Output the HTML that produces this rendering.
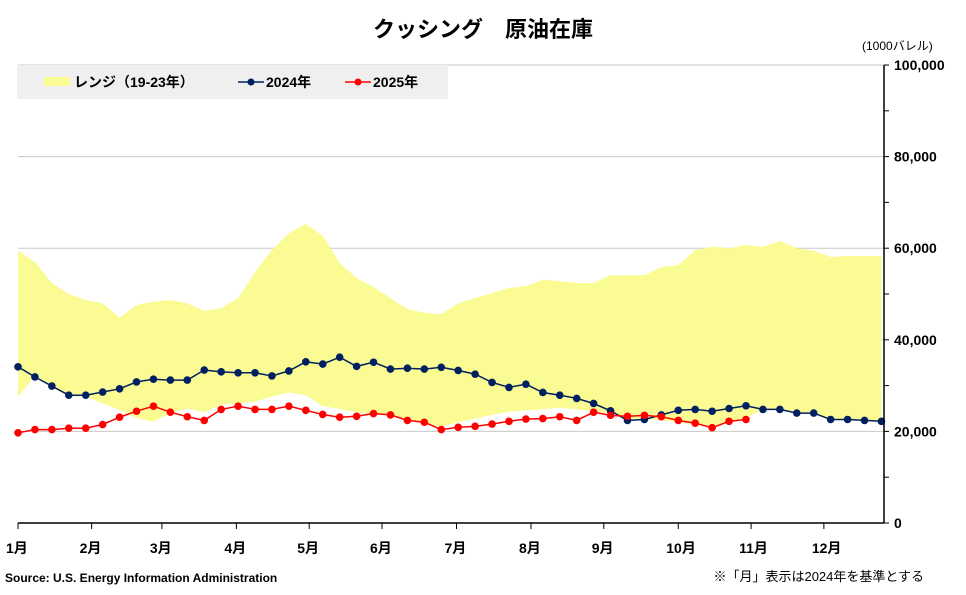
<!DOCTYPE html>
<html><head><meta charset="utf-8">
<style>
body{margin:0;background:#fff;}
svg text{font-family:"Liberation Sans","Noto Sans CJK JP",sans-serif;}
</style></head>
<body>
<svg id="chart" width="966" height="590" viewBox="0 0 966 590" xmlns="http://www.w3.org/2000/svg">
<rect width="966" height="590" fill="#fff"/>
<text x="483" y="37" text-anchor="middle" font-size="22" font-weight="bold" fill="#000">クッシング　原油在庫</text>
<text x="862" y="50" font-size="12" fill="#000">(1000バレル)</text>
<g id="grid"></g>
<g id="band"></g>
<g id="s24"></g>
<g id="s25"></g>
<g id="axes"></g>
<g>
<rect x="17" y="65" width="431" height="34" fill="#efefef"/>
<rect x="44" y="77" width="26" height="9" fill="#fbfb94"/>
<text x="74" y="87" font-size="14" font-weight="bold">レンジ（19-23年）</text>
<line x1="238" y1="82" x2="264" y2="82" stroke="#002060" stroke-width="1.5"/>
<circle cx="251" cy="82" r="3.5" fill="#002060"/>
<text x="266" y="87" font-size="14" font-weight="bold">2024年</text>
<line x1="345" y1="82" x2="371" y2="82" stroke="#ff0000" stroke-width="1.5"/>
<circle cx="358" cy="82" r="3.5" fill="#ff0000"/>
<text x="373" y="87" font-size="14" font-weight="bold">2025年</text>
</g>
<text x="5" y="582" font-size="12" font-weight="bold">Source: U.S. Energy Information Administration</text>
<text x="924" y="581" text-anchor="end" font-size="13">※「月」表示は2024年を基準とする</text>
</svg>
<script>
const months = ["1月","2月","3月","4月","5月","6月","7月","8月","9月","10月","11月","12月"];
const monthWeek = [0,4.35,8.5,12.9,17.2,21.5,25.9,30.3,34.6,39.0,43.3,47.6];
const yTicks = [0,20000,40000,60000,80000,100000];
const rangeHigh = [59.4,57,52.4,50,48.7,48,44.8,47.6,48.3,48.7,48,46.3,46.9,49.1,54.8,59.6,63.3,65.3,62.7,56.8,53.5,51.5,49.1,46.7,45.9,45.6,48,49.1,50.2,51.3,51.7,53.1,52.8,52.4,52.4,54.1,54.1,54.1,55.9,56.3,59.6,60.3,60,60.7,60.3,61.6,60,59.4,58.1,58.3,58.3,58.3];
const rangeLow = [27.6,32.0,29.5,27.8,27.6,26.1,24.7,22.9,22.1,24.0,25.0,24.2,25.8,26.1,26.5,27.6,28.5,27.9,25.5,24.9,24.2,23.8,23.5,22.6,21.8,21.0,22.0,22.8,23.6,24.3,24.6,24.8,25.2,24.8,24.4,24.0,22.7,22.7,22.4,22.0,21.5,21.0,22.0,23.0,24.8,24.8,24.0,24.0,22.6,22.6,22.4,22.2];
const v2024 = [34.1,31.9,29.9,27.9,27.9,28.6,29.3,30.8,31.4,31.2,31.2,33.4,33.0,32.8,32.8,32.1,33.2,35.2,34.7,36.2,34.2,35.1,33.6,33.8,33.6,34.0,33.3,32.5,30.7,29.6,30.3,28.5,27.9,27.2,26.1,24.5,22.4,22.6,23.6,24.6,24.8,24.4,25.0,25.6,24.8,24.8,24.0,24.0,22.6,22.6,22.4,22.2];
const v2025 = [19.7,20.4,20.4,20.7,20.7,21.5,23.1,24.4,25.5,24.2,23.2,22.4,24.8,25.5,24.8,24.8,25.5,24.6,23.7,23.1,23.3,23.9,23.6,22.4,22.0,20.4,20.9,21.1,21.6,22.2,22.7,22.8,23.2,22.4,24.2,23.5,23.3,23.5,23.2,22.4,21.8,20.8,22.2,22.6];

const NS="http://www.w3.org/2000/svg";
const X0=18, XSTEP=16.93, Y0=523, YTOP=65, XR=884;
const xs = i => X0 + i*XSTEP;
const ys = v => Y0 - v/100000*(Y0-YTOP);
const yk = v => ys(v*1000);
function mk(tag, attrs, parent){const e=document.createElementNS(NS,tag);for(const k in attrs)e.setAttribute(k,attrs[k]);parent.appendChild(e);return e;}

const grid=document.getElementById('grid'), axes=document.getElementById('axes');
yTicks.forEach(t=>{
  if(t>0){
    const g=mk('line',{x1:X0,x2:XR,y1:ys(t),y2:ys(t),stroke:'#c8c8c8','stroke-width':1},grid);
    
    
  }
  const lb=mk('text',{x:894,y:ys(t)+5,'font-size':14,'font-weight':'bold'},axes);
  lb.textContent=t.toLocaleString('en-US');
  
  
});
for(let t=0;t<=100000;t+=10000){mk('line',{x1:XR,x2:XR+5,y1:ys(t),y2:ys(t),stroke:'#000','stroke-width':1},axes);}
mk('line',{x1:XR,x2:XR,y1:YTOP,y2:Y0,stroke:'#000','stroke-width':1.5},axes);
mk('line',{x1:X0,x2:XR,y1:Y0,y2:Y0,stroke:'#000','stroke-width':1.5},axes);
months.forEach((m,i)=>{
  const x=xs(monthWeek[i]);
  mk('line',{x1:x,x2:x,y1:Y0,y2:Y0+6,stroke:'#000','stroke-width':1},axes);
  const lb=mk('text',{x:x-12,y:553,'font-size':14,'font-weight':'bold'},axes);
  lb.textContent=m;
  
  
});

// band
let d='';
rangeHigh.forEach((v,i)=>{d+=(i?'L':'M')+xs(i).toFixed(1)+','+yk(v).toFixed(1);});
for(let i=rangeLow.length-1;i>=0;i--){d+='L'+xs(i).toFixed(1)+','+yk(rangeLow[i]).toFixed(1);}
const bp=mk('path',{d:d+'Z',fill:'#fbfb94'},document.getElementById('band'));



function series(vals,color,gid,name){
  const g=document.getElementById(gid);
  const pts=vals.map((v,i)=>xs(i).toFixed(1)+','+yk(v).toFixed(1)).join(' ');
  const l=mk('polyline',{points:pts,fill:'none',stroke:color,'stroke-width':1.5},g);
  
  
  vals.forEach((v,i)=>{
    const c=mk('circle',{cx:xs(i),cy:yk(v),r:3.8,fill:color},g);
    
    
  });
}
series(v2024,'#002060','s24','series-2024');
series(v2025,'#ff0000','s25','series-2025');
</script>
</body></html>
